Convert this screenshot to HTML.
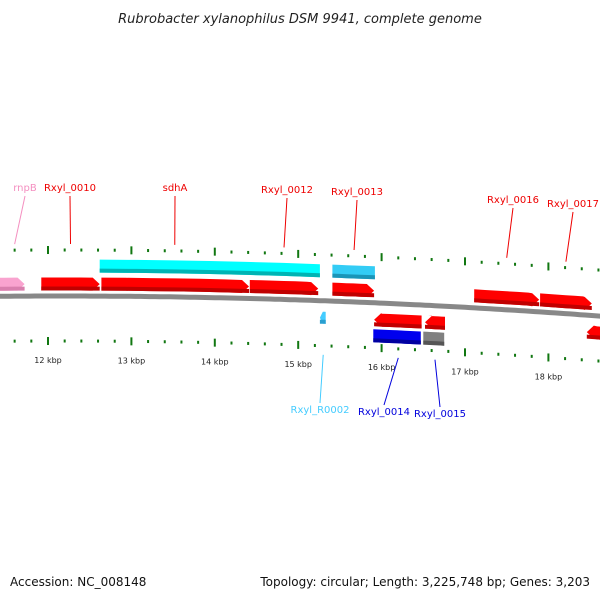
<!DOCTYPE html>
<html><head><meta charset="utf-8"><style>
html,body{margin:0;padding:0;background:#fff;}
svg{display:block;font-family:"DejaVu Sans","Liberation Sans",sans-serif;}
</style></head><body>
<svg id="map" width="600" height="600" viewBox="0 0 600 600">
<text x="300" y="23" text-anchor="middle" font-size="13" font-style="italic" fill="#222">Rubrobacter xylanophilus DSM 9941, complete genome</text>
<text x="10" y="586" font-size="12" fill="#111">Accession: NC_008148</text>
<text x="590" y="586" font-size="12" fill="#111" text-anchor="end">Topology: circular; Length: 3,225,748 bp; Genes: 3,203</text>
<g id="g"></g>
</svg>
<script>
// data
const geneNames = ["rnpB","Rxyl_0010","sdhA","Rxyl_0012","Rxyl_0013","Rxyl_0016","Rxyl_0017","cds-sdhA","cds-0013","Rxyl_R0002","Rxyl_0014","Rxyl_0015","gene-right","cds-0014","cds-0015"];
const geneStart = [11.0,11.92,12.64,14.42,15.41,17.11,17.90,12.62,15.41,15.26,15.91,16.52,18.46,15.90,16.50];
const geneEnd   = [11.72,12.62,14.41,15.24,15.91,17.89,18.52,15.26,15.92,15.33,16.48,16.76,19.2,16.47,16.75];
const geneStrand= [1,1,1,1,1,1,1,1,1,-1,-1,-1,-1,-1,-1];
const geneRow   = [1,1,1,1,1,1,1,2,2,1,1,1,1,2,2];
const geneKind  = ["rna","cds","cds","cds","cds","cds","cds","mcds","mcds2","trna","cds","cds","cds","mcdsb","pseudo"];
const tickLabels = ["12 kbp","13 kbp","14 kbp","15 kbp","16 kbp","17 kbp","18 kbp"];
const tickKb = [12,13,14,15,16,17,18];
const labelNames = ["rnpB","Rxyl_0010","sdhA","Rxyl_0012","Rxyl_0013","Rxyl_0016","Rxyl_0017","Rxyl_R0002","Rxyl_0014","Rxyl_0015"];
const labelKb = [11.6,12.27,13.52,14.83,15.67,17.50,18.21,15.30,16.20,16.64];
const labelSide=[1,1,1,1,1,1,1,-1,-1,-1];

const colors={rna:["#f9a3cf","#d97fae"],cds:["#ff0000","#c00000"],mcds:["#00ffff","#00b4b4"],mcds2:["#33ccf5","#1a95b8"],trna:["#44ccff","#2a9fd0"],mcdsb:["#0000ee","#0000a0"],pseudo:["#808080","#555"]};
const NS="http://www.w3.org/2000/svg";
const G=document.getElementById('g');
function X(kb){return 48+(kb-12)*83.4;}
function Y(x){return 296+6.9e-5*(x-60)*(x-60);}
function el(t,a){const e=document.createElementNS(NS,t);for(const k in a)e.setAttribute(k,a[k]);G.appendChild(e);return e;}
// backbone
let d="";for(let x=-5;x<=605;x+=5){d+=(x<0?"M":"L")+x+","+Y(x).toFixed(1);}
let bb=el("path",{d:d,fill:"none",stroke:"#888",'stroke-width':5});


// ticks
for(let i=-2;i<=36;i++){const kb=11.6+i*0.2;const x=X(kb);if(x<-2||x>602)continue;
 const major=Math.abs(Math.round(kb)-kb)<0.01;
 [-46,45].forEach(o=>{const y=Y(x)+o;const h=major?8:3;
  const t=el("rect",{x:x-1,y:y-h/2,width:2,height:h,fill:"#117711"});
  
  });}
tickKb.forEach((kb,i)=>{const x=X(kb);const t=el("text",{x:x,y:Y(x)+67,'font-size':8,'text-anchor':'middle',fill:'#222'});t.textContent=tickLabels[i];
 
 });
// genes
function gpath(x1,x2,off,h,dir,arrow){const n=6;let top=[],bot=[];const a=arrow?Math.min(7,(x2-x1)*0.5):0;
 for(let i=0;i<=n;i++){const x=x1+(x2-x1)*i/n;top.push([x,Y(x)+off-h/2]);bot.push([x,Y(x)+off+h/2]);}
 let pts=[];
 if(dir>0){top[n][0]-=a;bot[n][0]-=a;pts=top.concat([[x2,Y(x2)+off]],bot.reverse());}
 else{top[0][0]+=a;bot[0][0]+=a;pts=[[x1,Y(x1)+off]].concat(top,bot.reverse());}
 return "M"+pts.map(p=>p[0].toFixed(1)+","+p[1].toFixed(1)).join("L")+"Z";}
geneNames.forEach((nm,i)=>{const x1=X(geneStart[i]),x2=X(geneEnd[i]);const k=geneKind[i];const c=colors[k];
 let off,h=13,arrow=true;
 if(geneStrand[i]>0){off=geneRow[i]==1?-12:-30;if(geneRow[i]==2){arrow=false;}}
 else{off=geneRow[i]==1?17:33;if(geneRow[i]==2)arrow=false;}
 if(k==="trna"){h=12;}
 const p=el("path",{d:gpath(x1,x2,off,h,geneStrand[i],arrow),fill:c[0]});
 
 
 const s=el("path",{d:gpath(x1,x2,off+h/2-2,4,geneStrand[i],false),fill:c[1]});
 
 
});
// labels
const lc={"rnpB":"#f48fc0","Rxyl_R0002":"#44ccff","Rxyl_0014":"#0000dd","Rxyl_0015":"#0000dd"};
const lx=[25,70,175,287,357,513,573,320,384,440];
const ly=[191,191,191,193,195,203,207,413,415,417];
labelNames.forEach((nm,i)=>{const x=X(labelKb[i]);const col=lc[nm]||"#ee0000";
 let y1,y2;if(labelSide[i]>0){y1=ly[i]+5;y2=Y(x)-52;}else{y1=Y(x)+54;y2=ly[i]-10;}
 const ln=el("line",{x1:x,y1:labelSide[i]>0?y2:y1,x2:lx[i]+(labelSide[i]>0?0:0),y2:labelSide[i]>0?y1:y2,stroke:col,'stroke-width':1});
 
 
 const t=el("text",{x:lx[i],y:ly[i],'font-size':10,'text-anchor':'middle',fill:col});t.textContent=nm;
 
 });
</script>
</body></html>
